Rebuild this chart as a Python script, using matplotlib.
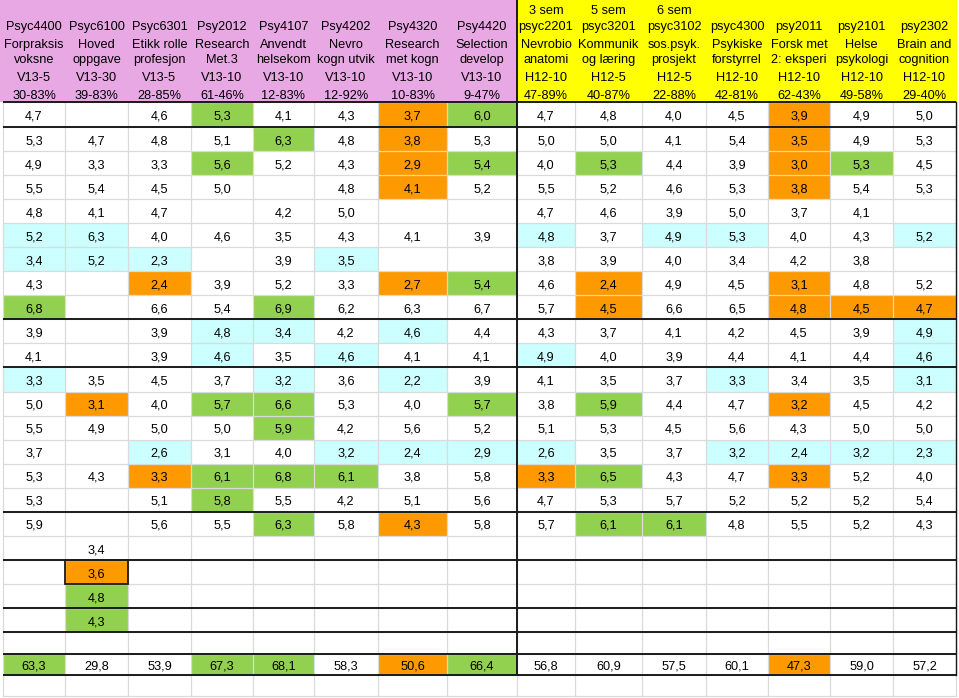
import matplotlib
matplotlib.use("Agg")
import matplotlib.pyplot as plt
from matplotlib.patches import Rectangle
import numpy as np

plt.rcParams['font.family'] = ['Liberation Sans', 'DejaVu Sans']

# ---------------- data ----------------
sem_labels = [""] * 8 + ["3 sem", "5 sem", "6 sem", "", "", "", ""]
codes = ["Psyc4400", "Psyc6100", "Psyc6301", "Psy2012", "Psy4107", "Psy4202", "Psy4320",
         "Psy4420", "psyc2201", "psyc3201", "psyc3102", "psyc4300", "psy2011", "psy2101", "psy2302"]
names1 = ["Forpraksis", "Hoved", "Etikk rolle", "Research", "Anvendt", "Nevro", "Research",
          "Selection", "Nevrobio", "Kommunik", "sos.psyk.", "Psykiske", "Forsk met", "Helse", "Brain and"]
names2 = ["voksne", "oppgave", "profesjon", "Met.3", "helsekom", "kogn utvik", "met kogn",
          "develop", "anatomi", "og læring", "prosjekt", "forstyrrel", "2: eksperi", "psykologi", "cognition"]
versions = ["V13-5", "V13-30", "V13-5", "V13-10", "V13-10", "V13-10", "V13-10", "V13-10",
            "H12-10", "H12-5", "H12-5", "H12-10", "H12-10", "H12-10", "H12-10"]
percents = ["30-83%", "39-83%", "28-85%", "61-46%", "12-83%", "12-92%", "10-83%", "9-47%",
            "47-89%", "40-87%", "22-88%", "42-81%", "62-43%", "49-58%", "29-40%"]

N = None
values = [
    [4.7, N, 4.6, 5.3, 4.1, 4.3, 3.7, 6.0, 4.7, 4.8, 4.0, 4.5, 3.9, 4.9, 5.0],
    [5.3, 4.7, 4.8, 5.1, 6.3, 4.8, 3.8, 5.3, 5.0, 5.0, 4.1, 5.4, 3.5, 4.9, 5.3],
    [4.9, 3.3, 3.3, 5.6, 5.2, 4.3, 2.9, 5.4, 4.0, 5.3, 4.4, 3.9, 3.0, 5.3, 4.5],
    [5.5, 5.4, 4.5, 5.0, N, 4.8, 4.1, 5.2, 5.5, 5.2, 4.6, 5.3, 3.8, 5.4, 5.3],
    [4.8, 4.1, 4.7, N, 4.2, 5.0, N, N, 4.7, 4.6, 3.9, 5.0, 3.7, 4.1, N],
    [5.2, 6.3, 4.0, 4.6, 3.5, 4.3, 4.1, 3.9, 4.8, 3.7, 4.9, 5.3, 4.0, 4.3, 5.2],
    [3.4, 5.2, 2.3, N, 3.9, 3.5, N, N, 3.8, 3.9, 4.0, 3.4, 4.2, 3.8, N],
    [4.3, N, 2.4, 3.9, 5.2, 3.3, 2.7, 5.4, 4.6, 2.4, 4.9, 4.5, 3.1, 4.8, 5.2],
    [6.8, N, 6.6, 5.4, 6.9, 6.2, 6.3, 6.7, 5.7, 4.5, 6.6, 6.5, 4.8, 4.5, 4.7],
    [3.9, N, 3.9, 4.8, 3.4, 4.2, 4.6, 4.4, 4.3, 3.7, 4.1, 4.2, 4.5, 3.9, 4.9],
    [4.1, N, 3.9, 4.6, 3.5, 4.6, 4.1, 4.1, 4.9, 4.0, 3.9, 4.4, 4.1, 4.4, 4.6],
    [3.3, 3.5, 4.5, 3.7, 3.2, 3.6, 2.2, 3.9, 4.1, 3.5, 3.7, 3.3, 3.4, 3.5, 3.1],
    [5.0, 3.1, 4.0, 5.7, 6.6, 5.3, 4.0, 5.7, 3.8, 5.9, 4.4, 4.7, 3.2, 4.5, 4.2],
    [5.5, 4.9, 5.0, 5.0, 5.9, 4.2, 5.6, 5.2, 5.1, 5.3, 4.5, 5.6, 4.3, 5.0, 5.0],
    [3.7, N, 2.6, 3.1, 4.0, 3.2, 2.4, 2.9, 2.6, 3.5, 3.7, 3.2, 2.4, 3.2, 2.3],
    [5.3, 4.3, 3.3, 6.1, 6.8, 6.1, 3.8, 5.8, 3.3, 6.5, 4.3, 4.7, 3.3, 5.2, 4.0],
    [5.3, N, 5.1, 5.8, 5.5, 4.2, 5.1, 5.6, 4.7, 5.3, 5.7, 5.2, 5.2, 5.2, 5.4],
    [5.9, N, 5.6, 5.5, 6.3, 5.8, 4.3, 5.8, 5.7, 6.1, 6.1, 4.8, 5.5, 5.2, 4.3],
    [N, 3.4, N, N, N, N, N, N, N, N, N, N, N, N, N],
    [N, 3.6, N, N, N, N, N, N, N, N, N, N, N, N, N],
    [N, 4.8, N, N, N, N, N, N, N, N, N, N, N, N, N],
    [N, 4.3, N, N, N, N, N, N, N, N, N, N, N, N, N],
]
# cell highlight codes: g = green, o = orange, c = light cyan, . = none
highlights = [
    "...g..og....o..",
    "....g.o.....o..",
    "...g..og.g..og.",
    "......o.....o..",
    "...............",
    "cc......c.cc..c",
    "ccc..c.........",
    "..o...og.o..o..",
    "g...g....o..ooo",
    "...cc.c.......c",
    "...c.c..c.....c",
    "c...c.c....c..c",
    ".o.gg..g.g..o..",
    "....g..........",
    "..c..cccc..cccc",
    "..oggg..og..o..",
    "...g...........",
    "....g.o..gg....",
    "...............",
    ".o.............",
    ".g.............",
    ".g.............",
]
totals = [63.3, 29.8, 53.9, 67.3, 68.1, 58.3, 50.6, 66.4, 56.8, 60.9, 57.5, 60.1, 47.3, 59.0, 57.2]
total_highlights = "g..gg.og....o.."
boxed_cell = (19, 1)  # row index, column index of the bordered cell

# ---------------- layout ----------------
W, H = 959, 698
col_edges = [3, 65, 128, 191, 253, 314, 378, 447, 517, 575, 642, 706, 768, 830, 893, 956]
row_edges = [102] + list(np.linspace(127, 632, 22))  # 23 edges -> 22 rows
blank_row = (632, 654)
total_row = (654, 675)
bottom = 696

colors = {"g": "#92d050", "o": "#ff9900", "c": "#ccffff"}
pink = "#e8a8e4"
yellow = "#ffff00"
grid = "#dadada"
dark = "#1a1a1a"

fig = plt.figure(figsize=(W / 100, H / 100), dpi=100)
ax = fig.add_axes([0, 0, 1, 1])
ax.set_xlim(0, W)
ax.set_ylim(H, 0)
ax.axis("off")

ncol = len(codes)
fs = 9.2

# header backgrounds
for j in range(ncol):
    x0, x1 = col_edges[j], col_edges[j + 1]
    if j == 0:
        x0 = 0
    if j == ncol - 1:
        x1 = W - 2
    ax.add_patch(Rectangle((x0, 0), x1 - x0, 102, facecolor=pink if j < 8 else yellow,
                           edgecolor="none", zorder=1))

# header text
hdr_lines = [(sem_labels, 9), (codes, 25), (names1, 43), (names2, 58), (versions, 76), (percents, 94.5)]
for j in range(ncol):
    xc = (col_edges[j] + col_edges[j + 1]) / 2
    for labels, yc in hdr_lines:
        if labels[j]:
            ax.text(xc, yc + 4.6, labels[j], ha="center", va="baseline", fontsize=fs, zorder=5)

def fmt(v):
    return f"{v:.1f}".replace(".", ",")

# data cells
for i, row in enumerate(values):
    y0, y1 = row_edges[i], row_edges[i + 1]
    yc = (y0 + y1) / 2
    for j, v in enumerate(row):
        x0, x1 = col_edges[j], col_edges[j + 1]
        h = highlights[i][j]
        if h in colors:
            ax.add_patch(Rectangle((x0, y0), x1 - x0, y1 - y0, facecolor=colors[h],
                                   edgecolor="none", zorder=1))
        if v is not None:
            ax.text((x0 + x1) / 2, yc + 5.2, fmt(v), ha="center", va="baseline",
                    fontsize=fs, zorder=5)

# totals row
yc = sum(total_row) / 2
for j, v in enumerate(totals):
    x0, x1 = col_edges[j], col_edges[j + 1]
    h = total_highlights[j]
    if h in colors:
        ax.add_patch(Rectangle((x0, total_row[0]), x1 - x0, total_row[1] - total_row[0],
                               facecolor=colors[h], edgecolor="none", zorder=1))
    ax.text((x0 + x1) / 2, yc + 5.2, fmt(v), ha="center", va="baseline", fontsize=fs, zorder=5)

# light grid lines
all_rows = row_edges + [blank_row[1], total_row[1], bottom]
for y in all_rows:
    ax.plot([col_edges[0], col_edges[-1]], [y, y], color=grid, lw=0.9, zorder=2)
for x in col_edges:
    ax.plot([x, x], [102, bottom], color=grid, lw=0.9, zorder=2)

# dark separator lines
thick_rows = [102, row_edges[1], row_edges[9], row_edges[11], row_edges[17], row_edges[19],
              row_edges[21], row_edges[22], blank_row[1], total_row[1]]
for y in thick_rows:
    ax.plot([col_edges[0], col_edges[-1]], [y, y], color=dark, lw=1.4, zorder=4,
            solid_capstyle="butt")
ax.plot([col_edges[8], col_edges[8]], [0, total_row[1]], color=dark, lw=1.4, zorder=4)
ax.plot([col_edges[-1], col_edges[-1]], [102, total_row[1]], color=dark, lw=1.0, zorder=4)

# boxed cell
bi, bj = boxed_cell
ax.add_patch(Rectangle((col_edges[bj], row_edges[bi]), col_edges[bj + 1] - col_edges[bj],
                       row_edges[bi + 1] - row_edges[bi], facecolor="none",
                       edgecolor=dark, lw=1.3, zorder=6))

fig.savefig("out.png", dpi=100)
